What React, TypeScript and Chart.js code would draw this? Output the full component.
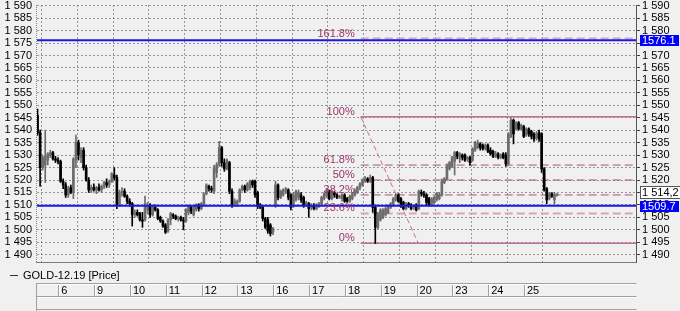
import React, { useEffect, useRef } from 'react';
import { Chart, registerables } from 'chart.js';
Chart.register(...registerables);

// ---- tick labels / categories ----
const dayLabels = ['6', '9', '10', '11', '12', '13', '16', '17', '18', '19', '20', '23', '24', '25'];
const firstDayBars = 9; // partial first session (5th) before the "6" column
const barsPerDay = 14;
const yTickValues = [1490, 1495, 1500, 1505, 1510, 1515, 1520, 1525, 1530, 1535, 1540, 1545, 1550, 1555, 1560, 1565, 1570, 1575, 1580, 1585, 1590];

// ---- hourly OHLC of GOLD-12.19 ----
const opens = [
  1546, 1539, 1525, 1526, 1528, 1530, 1531, 1528.5, 1528,
  1527.5, 1519.5, 1518, 1514, 1517, 1515, 1528, 1535, 1529, 1532, 1525, 1520, 1516, 1517,
  1516, 1517, 1516, 1517.5, 1519, 1518, 1519.5, 1522, 1521, 1510, 1515, 1515.5, 1513.5, 1511.5,
  1510.5, 1506, 1507, 1506.5, 1504, 1504, 1508, 1510, 1506, 1509, 1508, 1505, 1503.5, 1502,
  1499.5, 1504, 1506, 1505.5, 1504.5, 1505, 1504, 1503.5, 1507, 1509, 1506, 1508, 1510, 1508.5,
  1510.5, 1514.5, 1517.5, 1516.5, 1515.5, 1523, 1526, 1533, 1527, 1524.5, 1527, 1515.5, 1510, 1510.5,
  1511.5, 1516, 1517.5, 1516, 1517, 1519.5, 1519.5, 1515, 1510, 1509, 1504.5, 1504, 1502, 1499,
  1509.5, 1518, 1513, 1514, 1515.5, 1516, 1514, 1509.5, 1512, 1513, 1514, 1513, 1510, 1510.5,
  1509, 1509.5, 1508.5, 1509.5, 1510.5, 1512.5, 1513.5, 1515.5, 1512.5, 1515, 1514, 1513, 1512.5, 1514,
  1512.5, 1511.5, 1512.5, 1514, 1515, 1517, 1518, 1519.5, 1520.5, 1519.5, 1521, 1509, 1501, 1504,
  1505, 1506, 1507, 1509, 1510, 1512, 1514, 1512.5, 1511, 1508.5, 1510.5, 1510, 1509, 1510,
  1508.5, 1515, 1514.5, 1514, 1512.5, 1510, 1511, 1512, 1512.5, 1514, 1519, 1520.5, 1524.5, 1525.5,
  1527.5, 1531, 1528.5, 1530, 1530, 1528.5, 1529, 1528, 1532, 1533, 1534.5, 1534, 1532.5, 1534,
  1532, 1531.5, 1529.5, 1530.5, 1529, 1530.5, 1530, 1526.5, 1537.5, 1544, 1540.5, 1543, 1540.5, 1541.5,
  1538, 1540.5, 1539.5, 1538.5, 1537, 1539, 1538.5, 1524.5, 1516.5, 1512.5, 1514.5, 1512, 1514,
];
const highs = [
  1548.5, 1540, 1530, 1540, 1531, 1532, 1531.5, 1529.5, 1529,
  1528, 1520.5, 1519, 1517.5, 1518, 1529, 1538, 1536, 1533, 1533, 1526, 1521, 1518, 1518.5,
  1517.5, 1518.5, 1518, 1519.5, 1520.5, 1520, 1523, 1525, 1522, 1516, 1517, 1516.5, 1514, 1512.5,
  1511, 1508, 1508, 1507, 1507, 1513.5, 1511, 1510.5, 1510, 1510, 1508.5, 1505.5, 1504, 1502.5,
  1504.5, 1507, 1506.5, 1506, 1505.5, 1505.5, 1505, 1508.5, 1510, 1509.5, 1509.5, 1510.5, 1510.5, 1511,
  1515, 1518.5, 1518, 1517.5, 1526, 1527, 1535.5, 1533.5, 1528.5, 1528.5, 1527.5, 1516.5, 1512.5, 1512,
  1516.5, 1518, 1518, 1519, 1520, 1520, 1520, 1515.5, 1510.5, 1509.5, 1505, 1505, 1502.5, 1501,
  1519.5, 1518.5, 1516, 1516.5, 1517, 1516.5, 1514.5, 1515, 1516, 1516, 1515, 1513.5, 1511.5, 1511,
  1510.5, 1510.5, 1510.5, 1511, 1513.5, 1515, 1516.5, 1516, 1516, 1515.5, 1514.5, 1514, 1514.5, 1514.5,
  1513, 1514, 1515, 1516.5, 1517.5, 1519, 1520.5, 1521.5, 1521, 1522, 1521.5, 1510, 1507, 1508.5,
  1508.5, 1509, 1510, 1511, 1513, 1514.5, 1514.5, 1513, 1511.5, 1511, 1511, 1510.5, 1510, 1510.5,
  1516, 1516, 1515.5, 1514.5, 1513, 1513, 1513.5, 1515, 1515, 1520.5, 1521, 1526.5, 1527.5, 1529.5,
  1531.5, 1531.5, 1531, 1530.5, 1530.5, 1529.5, 1529.5, 1533, 1535.5, 1536, 1535, 1534.5, 1534.5, 1534.5,
  1533, 1532, 1531.5, 1531, 1530.5, 1531, 1531, 1539, 1545, 1544.5, 1543.5, 1543.5, 1542.5, 1542,
  1541, 1541, 1540, 1539, 1539.5, 1540, 1539, 1525, 1517, 1515, 1515, 1515, 1514.5,
];
const lows = [
  1538, 1517.5, 1524, 1519, 1526, 1529, 1528, 1527, 1526.5,
  1519, 1516.5, 1513, 1513, 1514.5, 1512.5, 1525, 1528, 1527, 1524, 1519.5, 1515, 1515, 1515.5,
  1514.5, 1515.5, 1515, 1516.5, 1517, 1517, 1519, 1520, 1508.5, 1509.5, 1513.5, 1513, 1510.5, 1509.5,
  1501.5, 1505, 1505.5, 1503.5, 1501, 1503.5, 1506.5, 1505, 1505.5, 1507.5, 1504, 1503, 1501, 1498.5,
  1499, 1502, 1504.5, 1504, 1503.5, 1503.5, 1500, 1503, 1506, 1506.5, 1505.5, 1507.5, 1507.5, 1508,
  1510, 1514, 1515.5, 1515, 1514.5, 1521, 1525.5, 1525.5, 1523.5, 1524, 1514.5, 1509, 1509.5, 1509.5,
  1511, 1515.5, 1515, 1515.5, 1516, 1517, 1513, 1508.5, 1508.5, 1503.5, 1500.5, 1498.5, 1497.5, 1498,
  1509, 1512, 1512.5, 1513.5, 1514.5, 1512, 1508, 1509, 1511.5, 1512, 1511, 1509, 1509.5, 1505,
  1508, 1508, 1508, 1509, 1510, 1512, 1513, 1512, 1512, 1513, 1512.5, 1512.5, 1511.5, 1511,
  1511, 1511, 1512, 1513.5, 1514.5, 1516, 1517.5, 1519, 1519, 1519, 1507, 1494.5, 1500.5, 1503.5,
  1504.5, 1505.5, 1506.5, 1508.5, 1509.5, 1511.5, 1511, 1509, 1508, 1508, 1509, 1508, 1508, 1507.5,
  1508, 1513.5, 1513, 1510, 1509.5, 1509.5, 1510.5, 1511.5, 1512, 1513.5, 1518.5, 1520, 1524, 1525,
  1522, 1528.5, 1527, 1528, 1527.5, 1527.5, 1526, 1527.5, 1531.5, 1532.5, 1532, 1532, 1532, 1531,
  1530, 1529, 1529, 1528.5, 1528.5, 1528.5, 1525.5, 1526, 1537, 1534.5, 1540, 1540, 1540, 1537,
  1537.5, 1537.5, 1536.5, 1535.5, 1536, 1535.5, 1523, 1515.5, 1510.5, 1512, 1513, 1510.5, 1513.5,
];
const closes = [
  1539, 1525, 1529, 1529.5, 1530.5, 1531, 1528.5, 1528, 1527.5,
  1519.5, 1518, 1514, 1516.5, 1515, 1528.5, 1535, 1530, 1532, 1525, 1520, 1516, 1517, 1516,
  1517, 1516, 1517.5, 1519, 1518, 1519.5, 1522.5, 1521, 1510, 1515, 1515.5, 1513.5, 1511.5, 1510.5,
  1506, 1507, 1506, 1504, 1503.5, 1510.5, 1510, 1506, 1509.5, 1508, 1504.5, 1503.5, 1501.5, 1499,
  1504, 1506.5, 1505.5, 1504.5, 1505, 1504, 1503.5, 1508, 1509.5, 1507.5, 1509, 1510, 1508.5, 1510.5,
  1514.5, 1518, 1516.5, 1516, 1525, 1526, 1533, 1527, 1524.5, 1528, 1515.5, 1510, 1511.5, 1511.5,
  1516, 1517.5, 1516, 1518.5, 1519.5, 1518, 1514, 1509.5, 1509, 1504.5, 1501, 1499.5, 1498.5, 1500.5,
  1518, 1513, 1515.5, 1516, 1516.5, 1513, 1509, 1514, 1515.5, 1515, 1512, 1510, 1511, 1508.5,
  1509.5, 1508.5, 1510, 1510.5, 1513, 1514.5, 1516, 1512.5, 1515.5, 1514, 1513, 1513.5, 1514, 1511.5,
  1511.5, 1513.5, 1514.5, 1515.5, 1517, 1518.5, 1520, 1520.5, 1519.5, 1521, 1509, 1501, 1506, 1508,
  1508, 1508.5, 1509.5, 1510.5, 1512.5, 1514, 1511.5, 1509.5, 1508.5, 1510.5, 1509.5, 1508.5, 1509.5, 1508,
  1515.5, 1514.5, 1514, 1511, 1510, 1512.5, 1513, 1514.5, 1514, 1519.5, 1520.5, 1525.5, 1527, 1529,
  1531, 1529.5, 1530.5, 1529, 1528, 1529, 1527, 1532.5, 1535, 1535, 1533, 1532.5, 1534, 1531.5,
  1530.5, 1529.5, 1530.5, 1529, 1530, 1529, 1526.5, 1538.5, 1544, 1538.5, 1543, 1540.5, 1542, 1537.5,
  1540.5, 1538.5, 1537.5, 1536.5, 1538.5, 1536.5, 1524.5, 1516, 1512, 1514.5, 1513.5, 1514, 1514.2,
];

// ---- horizontal price lines and Fibonacci retracement ----
const priceLines = [1576.1, 1509.7];
const lastPriceLabel = '1 514,2';
const lastPrice = 1514.2;
const fibHigh = 1545.4;
const fibLow = 1494.6;
const fibStartBar = 126.3;
const fibEndBar = 148.8;
const fibRatios = [0, 0.236, 0.382, 0.5, 0.618, 1, 1.618];
const fibLabels = ['0%', '23.6%', '38.2%', '50%', '61.8%', '100%', '161.8%'];
const fibDashed = [false, true, true, true, true, false, true];
const fibLight = [false, true, false, false, false, false, true];

const X_MIN = -0.215;
const X_MAX = 234.27;
const Y_MIN = 1486.67;
const Y_MAX = 1590.28;
const FONT = '"Liberation Sans", Arial, sans-serif';
const GRID = 'rgba(120,120,120,0.75)';
const BG = '#f0f0f0';
const FIB_COLOR = '#a8507c';
const FIB_SOLID = '#c07099';
const FIB_LIGHT = '#d8a4bc';
const FIB_TEXT = '#9c3468';
const BLUE_LINE = '#1a1ae6';
const BLUE_BOX = '#0000ff';
const UP_COLOR = '#6c6c6c';
const DOWN_COLOR = '#000000';

const fmtTick = (v: number) => {
  const s = String(Math.round(v));
  return s.slice(0, 1) + ' ' + s.slice(1);
};

const dayBoundaries = dayLabels.map((_, k) => firstDayBars - 0.5 + barsPerDay * k);

const decorPlugin = {
  id: 'decor',
  beforeDraw(chart: any) {
    const { ctx, width, height } = chart;
    const xs = chart.scales.x;
    ctx.save();
    ctx.fillStyle = BG;
    ctx.fillRect(0, 0, width, height);
    // date band
    const left = 36.5, right = 636.5;
    ctx.lineWidth = 1;
    ctx.strokeStyle = '#a0a0a0';
    ctx.beginPath();
    ctx.moveTo(left, 283.5); ctx.lineTo(right, 283.5);
    ctx.moveTo(left, 296.5); ctx.lineTo(right, 296.5);
    ctx.moveTo(left, 309.5); ctx.lineTo(right, 309.5);
    ctx.moveTo(left, 283); ctx.lineTo(left, 311);
    dayBoundaries.forEach((b) => {
      const px = Math.round(xs.getPixelForValue(b)) - 0.5;
      ctx.moveTo(px, 283.5); ctx.lineTo(px, 296.5);
    });
    ctx.stroke();
    ctx.strokeStyle = '#ffffff';
    ctx.beginPath();
    ctx.moveTo(left + 1, 284.5); ctx.lineTo(right, 284.5);
    ctx.moveTo(left + 1, 297.5); ctx.lineTo(right, 297.5);
    dayBoundaries.forEach((b) => {
      const px = Math.round(xs.getPixelForValue(b)) + 0.5;
      ctx.moveTo(px, 284.5); ctx.lineTo(px, 296);
    });
    ctx.stroke();
    // legend
    ctx.strokeStyle = '#333';
    ctx.beginPath();
    ctx.moveTo(10, 275.5); ctx.lineTo(18, 275.5);
    ctx.stroke();
    ctx.fillStyle = '#000';
    ctx.font = `11px ${FONT}`;
    ctx.textBaseline = 'middle';
    ctx.textAlign = 'left';
    ctx.fillText('GOLD-12.19 [Price]', 23, 276);
    ctx.restore();
  },
  afterDatasetsDraw(chart: any) {
    const { ctx, chartArea } = chart;
    const xs = chart.scales.x;
    const ys = chart.scales.y;
    ctx.save();
    // frame
    ctx.lineWidth = 1;
    ctx.strokeStyle = '#8a8a8a';
    ctx.setLineDash([1, 1]);
    ctx.beginPath();
    ctx.moveTo(chartArea.left - 0.5, chartArea.top);
    ctx.lineTo(chartArea.left - 0.5, chartArea.bottom);
    ctx.stroke();
    ctx.setLineDash([]);
    ctx.strokeStyle = '#7a7a7a';
    ctx.beginPath();
    ctx.moveTo(chartArea.left - 1, chartArea.bottom - 0.5);
    ctx.lineTo(chartArea.right, chartArea.bottom - 0.5);
    ctx.stroke();
    ctx.strokeStyle = '#555';
    ctx.beginPath();
    ctx.moveTo(chartArea.right - 0.5, chartArea.top);
    ctx.lineTo(chartArea.right - 0.5, chartArea.bottom);
    ctx.stroke();
    // fib labels
    ctx.fillStyle = FIB_TEXT;
    ctx.font = `11px ${FONT}`;
    ctx.textAlign = 'right';
    ctx.textBaseline = 'alphabetic';
    const lx = xs.getPixelForValue(fibStartBar) - 6;
    fibRatios.forEach((r, i) => {
      const v = fibLow + r * (fibHigh - fibLow);
      ctx.fillText(fibLabels[i], lx, ys.getPixelForValue(v) - 2);
    });
    ctx.restore();
  },
  afterDraw(chart: any) {
    const { ctx } = chart;
    const ys = chart.scales.y;
    ctx.save();
    ctx.font = `11px ${FONT}`;
    ctx.textBaseline = 'middle';
    ctx.textAlign = 'left';
    // last price box
    const yl = ys.getPixelForValue(lastPrice);
    ctx.fillStyle = '#ffffff';
    ctx.fillRect(640, Math.round(yl) - 8, 40, 13);
    ctx.strokeStyle = '#555';
    ctx.lineWidth = 1;
    ctx.strokeRect(640.5, Math.round(yl) - 7.5, 40, 12);
    ctx.fillStyle = '#000';
    ctx.fillText(lastPriceLabel, 642, Math.round(yl) - 1.5);
    // blue price boxes
    priceLines.forEach((p) => {
      const y = Math.round(ys.getPixelForValue(p));
      ctx.fillStyle = BLUE_BOX;
      ctx.fillRect(640, y - 5, 39, 11);
      ctx.fillStyle = '#ffffff';
      ctx.fillText(p.toFixed(1), 642, y + 0.5);
    });
    ctx.restore();
  },
};

export default function App() {
  const ref = useRef<HTMLCanvasElement>(null);
  useEffect(() => {
    document.body.style.margin = '0';
    const n = opens.length;
    const idx = Array.from({ length: n }, (_, i) => i);
    const colors = idx.map((i) => (closes[i] >= opens[i] ? UP_COLOR : DOWN_COLOR));

    const fibDatasets: any[] = fibRatios.map((r, i) => {
      const v = fibLow + r * (fibHigh - fibLow);
      return {
        type: 'line',
        data: [{ x: fibStartBar, y: v }, { x: X_MAX, y: v }],
        borderColor: fibLight[i] ? FIB_LIGHT : fibDashed[i] ? FIB_COLOR : FIB_SOLID,
        borderWidth: fibLight[i] ? 2 : fibDashed[i] ? 1 : 1.5,
        borderDash: fibDashed[i] ? [8, 4] : [],
        pointRadius: 0,
        order: 5,
      };
    });
    fibDatasets.push({
      type: 'line',
      data: [{ x: fibStartBar, y: fibHigh }, { x: fibEndBar, y: fibLow }],
      borderColor: '#c86a98',
      borderWidth: 1,
      borderDash: [5, 3],
      pointRadius: 0,
      order: 5,
    });

    const lineDatasets: any[] = priceLines.map((p) => ({
      type: 'line',
      data: [{ x: X_MIN, y: p }, { x: X_MAX, y: p }],
      borderColor: BLUE_LINE,
      borderWidth: 2,
      pointRadius: 0,
      order: 0,
    }));

    const chart = new Chart(ref.current as HTMLCanvasElement, {
      type: 'bar',
      data: {
        datasets: [
          ...fibDatasets,
          {
            type: 'bar',
            data: idx.map((i) => ({ x: i, y: [lows[i], highs[i]] })),
            backgroundColor: colors,
            borderWidth: 0,
            barThickness: 1,
            grouped: false,
            order: 3,
          },
          {
            type: 'bar',
            data: idx.map((i) => ({ x: i, y: [opens[i], closes[i]] })),
            backgroundColor: colors,
            borderWidth: 0,
            barThickness: 2,
            minBarLength: 1,
            grouped: false,
            order: 2,
          },
          ...lineDatasets,
        ],
      } as any,
      options: {
        responsive: false,
        animation: false,
        devicePixelRatio: 1,
        events: [],
        layout: { padding: { top: 5, left: 0, right: 0, bottom: 0 } },
        plugins: { legend: { display: false }, tooltip: { enabled: false } },
        scales: {
          x: {
            type: 'linear',
            min: X_MIN,
            max: X_MAX,
            offset: false,
            afterBuildTicks: (s: any) => {
              s.ticks = dayBoundaries.map((v) => ({ value: v }));
            },
            afterFit: (s: any) => {
              s.height = 48;
              s.paddingLeft = 0;
              s.paddingRight = 0;
            },
            ticks: {
              autoSkip: false,
              maxRotation: 0,
              minRotation: 0,
              align: 'start',
              labelOffset: 2,
              padding: 21,
              color: '#000',
              font: { family: FONT, size: 11 },
              callback: (_v: any, i: number) => dayLabels[i],
            },
            grid: { color: GRID, drawTicks: false, lineWidth: 1 },
            border: { display: false, dash: [2, 2] },
          },
          y: {
            position: 'left',
            min: Y_MIN,
            max: Y_MAX,
            afterBuildTicks: (s: any) => {
              s.ticks = yTickValues.map((v) => ({ value: v }));
            },
            afterFit: (s: any) => {
              s.width = 37;
              s.paddingTop = 0;
              s.paddingBottom = 0;
            },
            ticks: {
              autoSkip: false,
              padding: 5,
              color: '#000',
              font: { family: FONT, size: 11 },
              callback: (v: any) => fmtTick(Number(v)),
            },
            grid: { color: GRID, drawTicks: false, lineWidth: 1 },
            border: { display: false, dash: [2, 2] },
          },
          y2: {
            position: 'right',
            min: Y_MIN,
            max: Y_MAX,
            afterBuildTicks: (s: any) => {
              s.ticks = yTickValues.map((v) => ({ value: v }));
            },
            afterFit: (s: any) => {
              s.width = 43;
              s.paddingTop = 0;
              s.paddingBottom = 0;
            },
            ticks: {
              autoSkip: false,
              padding: 2,
              color: '#000',
              font: { family: FONT, size: 11 },
              callback: (v: any) => fmtTick(Number(v)),
            },
            grid: { drawOnChartArea: false, drawTicks: true, tickLength: 3, color: '#444' },
            border: { display: false },
          },
        },
      } as any,
      plugins: [decorPlugin],
    });
    return () => chart.destroy();
  }, []);
  return (
    <div style={{ width: 680, height: 311, background: BG }}>
      <canvas ref={ref} width={680} height={311} style={{ display: 'block', width: 680, height: 311 }} />
    </div>
  );
}
